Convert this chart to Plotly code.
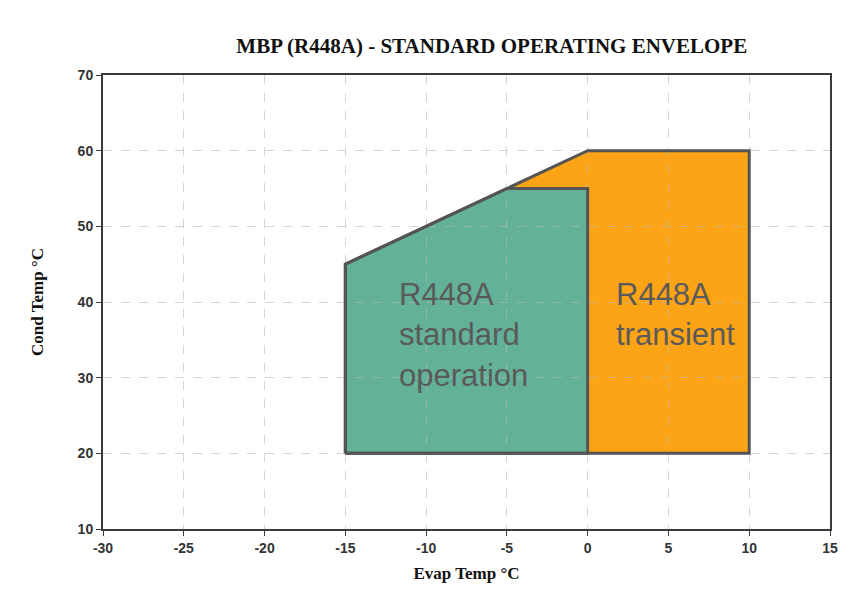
import plotly.graph_objects as go

# Envelope data (Evap temp °C, Cond temp °C)
transient_evap = [-15, -15, 0, 10, 10, -15]
transient_cond = [20, 45, 60, 60, 20, 20]
standard_evap = [-15, -15, -5, 0, 0, -15]
standard_cond = [20, 45, 55, 55, 20, 20]

x_ticks = [-30, -25, -20, -15, -10, -5, 0, 5, 10, 15]
y_ticks = [10, 20, 30, 40, 50, 60, 70]


def poly_path(xs, ys):
    return "M " + " L ".join(f"{x},{y}" for x, y in zip(xs, ys)) + " Z"


fig = go.Figure()
# filled regions drawn below the gridlines (as in the reference)
fig.add_shape(type="path", path=poly_path(transient_evap, transient_cond), xref="x", yref="y",
              fillcolor="#FCA316", line=dict(width=0), layer="below")
fig.add_shape(type="path", path=poly_path(standard_evap, standard_cond), xref="x", yref="y",
              fillcolor="#63B199", line=dict(width=0), layer="below")

# outlines
fig.add_trace(go.Scatter(
    x=transient_evap, y=transient_cond, mode="lines",
    line=dict(color="#545454", width=3), hoverinfo="skip", showlegend=False))
fig.add_trace(go.Scatter(
    x=standard_evap, y=standard_cond, mode="lines",
    line=dict(color="#545454", width=3), hoverinfo="skip", showlegend=False))

lab_font = dict(family="Liberation Sans, Arial, sans-serif", size=31, color="#5a5a5a")
fig.add_annotation(x=-11.8, y=43.6, xref="x", yref="y", text="R448A<br>standard<br>operation",
                   showarrow=False, xanchor="left", yanchor="top", align="left", font=lab_font)
fig.add_annotation(x=1.65, y=43.6, xref="x", yref="y", text="R448A<br>transient",
                   showarrow=False, xanchor="left", yanchor="top", align="left", font=lab_font)

tick_font = dict(family="Liberation Sans, Arial, sans-serif", size=14, color="#333333", weight="bold")
title_font = dict(family="Liberation Serif, Times New Roman, serif", size=17, color="#111111")

grid_col = "rgba(185,185,185,0.6)"

fig.update_layout(
    width=867, height=601,
    margin=dict(l=95, r=45, t=67, b=80),
    paper_bgcolor="white", plot_bgcolor="white",
    title=dict(text="<b>MBP (R448A) - STANDARD OPERATING ENVELOPE</b>",
               x=0.558, xanchor="center", y=0.937, yanchor="middle",
               font=dict(family="Liberation Serif, Times New Roman, serif", size=21, color="#111111")),
    xaxis=dict(range=[-30, 15], tickvals=x_ticks, ticktext=[str(v) for v in x_ticks],
               showgrid=True, gridcolor=grid_col, griddash="dash", gridwidth=1,
               zeroline=False, showline=True, linecolor="#3a3a3a", linewidth=2, mirror=True,
               ticks="outside", ticklen=5, tickcolor="#3a3a3a",
               tickfont=tick_font,
               title=dict(text="<b>Evap Temp °C</b>", font=title_font, standoff=12)),
    yaxis=dict(range=[10, 70], tickvals=y_ticks, ticktext=[str(v) for v in y_ticks],
               showgrid=True, gridcolor=grid_col, griddash="dash", gridwidth=1,
               zeroline=False, showline=True, linecolor="#3a3a3a", linewidth=2, mirror=True,
               ticks="outside", ticklen=5, tickcolor="#3a3a3a",
               tickfont=tick_font,
               title=dict(text="<b>Cond Temp °C</b>", font=title_font, standoff=30)),
)

fig.write_html("out.html")
